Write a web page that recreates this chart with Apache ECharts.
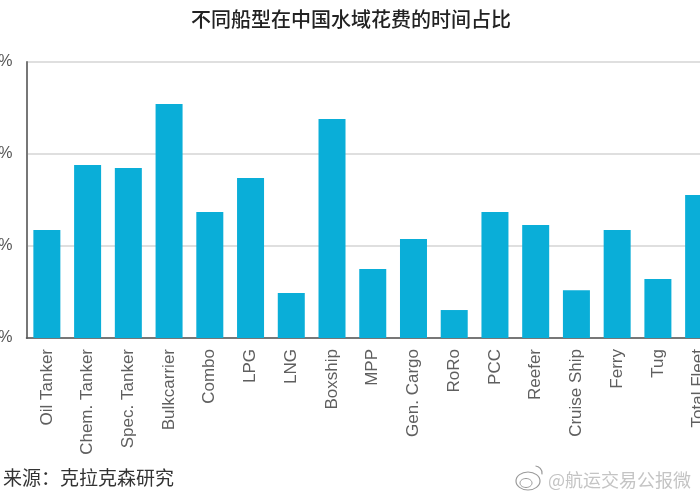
<!DOCTYPE html>
<html><head><meta charset="utf-8">
<style>html,body{margin:0;padding:0;background:#fff}#c{width:700px;height:500px}</style>
<script src="https://cdn.jsdelivr.net/npm/echarts@6/dist/echarts.min.js"></script>
</head><body><div id="c"></div>
<script>
const categories=["Oil Tanker","Chem. Tanker","Spec. Tanker","Bulkcarrier","Combo","LPG","LNG","Boxship","MPP","Gen. Cargo","RoRo","PCC","Reefer","Cruise Ship","Ferry","Tug","Total Fleet"];
const shareOfTime=[5.87,9.4,9.24,12.72,6.85,8.7,2.45,11.9,3.75,5.38,1.52,6.85,6.14,2.6,5.87,3.2,7.77];
const titleText="不同船型在中国水域花费的时间占比";
const sourceText="来源\uFF1A克拉克森研究";
const watermarkText="@航运交易公报微";
const cjk='"Noto Sans CJK SC","Noto Sans",sans-serif';
const chart=echarts.init(document.getElementById('c'),null,{renderer:'canvas'});
chart.setOption({
  animation:false,
  backgroundColor:'#fff',
  title:{text:titleText,left:346,top:4,textAlign:'center',textStyle:{fontFamily:cjk,fontSize:20,fontWeight:500,color:'#222'}},
  grid:{left:26.5,right:-19,top:62,bottom:162,containLabel:false,outerBoundsMode:'none'},
  xAxis:{type:'category',data:categories,
    axisLine:{lineStyle:{color:'#555',width:1.5}},axisTick:{show:false},
    axisLabel:{rotate:90,interval:0,margin:11,hideOverlap:false,fontFamily:'"Liberation Sans",Arial,sans-serif',fontSize:17,color:'#5f5f5f'}},
  yAxis:{type:'value',min:0,max:15,interval:5,
    axisLine:{show:true,lineStyle:{color:'#777',width:2}},axisTick:{show:false},
    axisLabel:{margin:14,formatter:'{value}%',fontFamily:'"Liberation Sans",Arial,sans-serif',fontSize:16,color:'#555'},
    splitLine:{lineStyle:{color:'#d4d4d4',width:1.5}}},
  series:[{type:'bar',data:shareOfTime,barWidth:27,itemStyle:{color:'#0aaed8'}}],
  graphic:[
    {type:'text',left:3,top:468,style:{text:sourceText,fontFamily:cjk,fontSize:19,fill:'#333'}},
    {type:'text',left:548,top:471,style:{text:watermarkText,fontFamily:cjk,fontSize:18,fill:'#c4c4c4'}},
    {type:'ellipse',shape:{cx:528,cy:481,rx:12,ry:9},style:{fill:'#fff',stroke:'#9a9a9a',lineWidth:1.2}},
    {type:'ellipse',shape:{cx:526,cy:483,rx:6,ry:4.5},style:{fill:'#fff',stroke:'#9a9a9a',lineWidth:1}},
    {type:'arc',shape:{cx:535,cy:473,r:7,startAngle:-1.5,endAngle:0.2},style:{fill:'none',stroke:'#9a9a9a',lineWidth:1.2}}
  ]
});
</script></body></html>
